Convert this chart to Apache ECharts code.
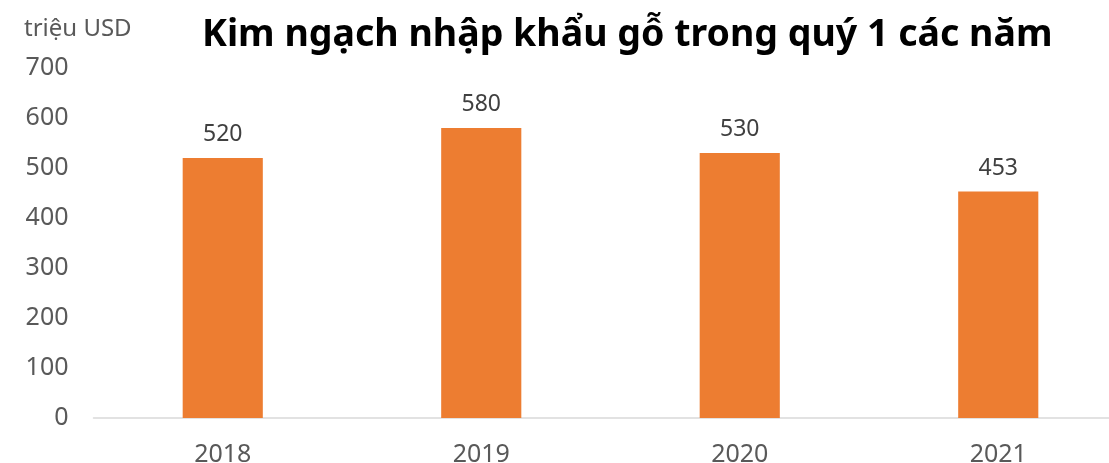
<!DOCTYPE html>
<html>
<head>
<meta charset="utf-8">
<script src="https://cdn.jsdelivr.net/npm/echarts@6/dist/echarts.min.js"></script>
<style>
  html, body { margin: 0; padding: 0; background: #fff; }
  #chart { width: 1109px; height: 463px; }
</style>
</head>
<body>
<div id="chart"></div>
<script>
var years = ['2018', '2019', '2020', '2021'];
var values = [520, 580, 530, 453];
var titleText = 'Kim ngạch nhập khẩu gỗ trong quý 1 các năm';
var unitText = 'triệu USD';

var myChart = echarts.init(document.getElementById('chart'));
var font = 'Noto Sans';

var option = {
    animation: false,
    title: [{
        text: titleText,
        left: 197,
        top: 11,
        textStyle: { fontFamily: font, fontSize: 37.5, fontWeight: 'bold', color: '#000' }
    }, {
        text: unitText,
        left: 19,
        top: 12,
        textStyle: { fontFamily: font, fontSize: 24, fontWeight: 'normal', color: '#595959' }
    }],
    // plot area runs past the right edge of the picture
    grid: { left: 93.5, width: 1034, top: 68, height: 350, outerBoundsMode: 'none', containLabel: false },
    xAxis: {
        type: 'category',
        data: years,
        axisLine: { lineStyle: { color: '#d9d9d9', width: 1.5 } },
        axisTick: { show: false },
        axisLabel: { fontFamily: font, fontSize: 25, color: '#595959', margin: 24 }
    },
    yAxis: {
        type: 'value',
        min: 0,
        max: 700,
        interval: 100,
        splitLine: { show: false },
        axisLabel: { fontFamily: font, fontSize: 25, color: '#595959', margin: 25 }
    },
    series: [{
        type: 'bar',
        data: values,
        barWidth: '31%',
        itemStyle: { color: '#ED7D31' },
        label: {
            show: true,
            position: 'top',
            distance: 12,
            fontFamily: font,
            fontSize: 23,
            color: '#404040'
        }
    }]
};
myChart.setOption(option);
</script>
</body>
</html>
